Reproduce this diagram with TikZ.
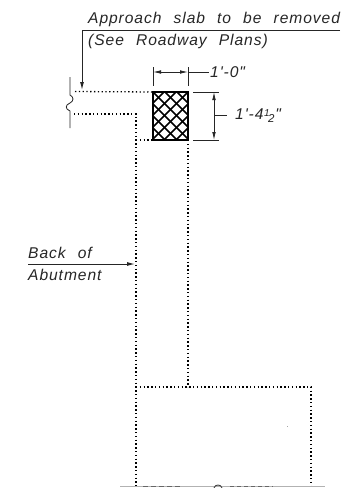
\documentclass[tikz,border=0pt]{standalone}
\usepackage{fontspec}
\setmainfont{Liberation Sans}[ItalicFont={Liberation Sans Italic}]
\newfontfamily\cadfont{Liberation Sans Italic}[LetterSpace=6,WordSpace=2.3]
\usetikzlibrary{arrows.meta}
\tikzset{
  dotline/.style={line width=1.3pt,dash pattern=on 1.3pt off 2.5pt,black},
  thin line/.style={line width=0.8pt,black!85},
  leader/.style={line width=1pt,black!85},
  tip/.style={-{Latex[length=8pt,width=4pt]}},
  dimtips/.style={{Latex[length=8pt,width=3.6pt]}-{Latex[length=8pt,width=3.6pt]}},
  label/.style={font=\cadfont\fontsize{15.6}{17}\selectfont,text=black!85,inner sep=0pt,anchor=west},
  hatchbox/.style={line width=2pt,black}
}
\begin{document}
\begin{tikzpicture}[x=1pt,y=-1pt]
\useasboundingbox (0,0) rectangle (347,488);
\fill[white] (0,0) rectangle (347,488);
% key points
\coordinate (bl) at (153,92); \coordinate (br) at (188,92);
\coordinate (tr2) at (188,140); \coordinate (tl2) at (153,140);
\coordinate (slabT) at (75,91.5); \coordinate (slabB) at (74,114);
\coordinate (backC) at (136,114); \coordinate (backB) at (136,140);
\coordinate (footL) at (136,387); \coordinate (footS) at (188,387);
\coordinate (footR) at (311,387); \coordinate (endL) at (136,486);
\coordinate (endR) at (311,486);
% dotted outline
\draw[dotline] (slabT) -- (bl);
\draw[dotline] (slabB) -- (backC) -- (footL) -- (endL);
\draw[dotline] (backB) -- (tl2);
\draw[dotline] (tr2) -- (footS);
\draw[dotline] (footL) -- (footR) -- (endR);
% hatched block
\begin{scope}
\clip (bl) rectangle (tr2);
\foreach \i in {-60,-48,...,108}{
  \draw[line width=1.6pt] (153+\i,92) -- ++(60,60);
  \draw[line width=1.6pt] (188-\i,92) -- ++(-60,60);
}
\end{scope}
\draw[hatchbox] (bl) rectangle (tr2);
% break line
\coordinate (b1) at (70,77); \coordinate (b2) at (70,128);
\draw[thin line] (b1) -- (70,95) .. controls (74,97) and (74,101) .. (70,103)
  .. controls (65,105) and (65,109) .. (70,111) -- (b2);
% approach slab leader
\coordinate (lr) at (340,30); \coordinate (lc) at (82,30); \coordinate (la) at (82,90);
\draw[leader,tip] (lr) -- (lc) -- (la);
\node[label] (t1) at (88,19) {Approach slab to be removed};
\node[label] (t2) at (88,41) {(See Roadway Plans)};
% 1'-0" dimension
\coordinate (d1a) at (153,67); \coordinate (d1b) at (153,86);
\coordinate (d2a) at (188,67); \coordinate (d2b) at (188,86);
\draw[thin line] (d1a) -- (d1b);
\draw[thin line] (d2a) -- (d2b);
\coordinate (dm1) at (153,72); \coordinate (dm2) at (188,72); \coordinate (dm3) at (209,72);
\draw[thin line,dimtips] (dm1) -- (dm2);
\draw[thin line] (dm2) -- (dm3);
\node[label] (t3) at (210,72) {1'-0"};
% 1'-4 1/2" dimension
\coordinate (e1a) at (193,92); \coordinate (e1b) at (219,92);
\coordinate (e2a) at (193,140); \coordinate (e2b) at (219,140);
\draw[thin line] (e1a) -- (e1b);
\draw[thin line] (e2a) -- (e2b);
\coordinate (em1) at (214,92); \coordinate (em2) at (214,140);
\draw[thin line,dimtips] (em1) -- (em2);
\coordinate (em3) at (214,115.5); \coordinate (em4) at (227,115.5);
\draw[thin line] (em3) -- (em4);
\node[label] (t4) at (235,115.5) {1'-4\kern0.5pt\raisebox{3.5pt}{\fontsize{10}{10}\selectfont 1}\kern-1.5pt\raisebox{-2.5pt}{\fontsize{11.5}{12}\selectfont 2}\kern1pt"};
% back of abutment
\coordinate (ba) at (28,264); \coordinate (bb) at (135,264);
\draw[leader,tip] (ba) -- (bb);
\node[label] (t5) at (28,253) {Back of};
\node[label] (t6) at (28,275) {Abutment};
% clipped sheet edge at the bottom
\coordinate (c1) at (120,486.7); \coordinate (c2) at (325,486.7);
\draw[black!30,line width=0.5pt] (c1) -- (c2);
\draw[black!75,line width=0.9pt] (214,488) .. controls (215,484) and (221,484) .. (222,488);
\draw[black!60,line width=0.8pt,dash pattern=on 5pt off 3pt] (143,486) -- (182,486);
\draw[black!60,line width=0.8pt,dash pattern=on 4pt off 3pt] (230,486) -- (273,486);
\fill[black!35] (286.5,426) rectangle (287.5,427);
\end{tikzpicture}
\end{document}
